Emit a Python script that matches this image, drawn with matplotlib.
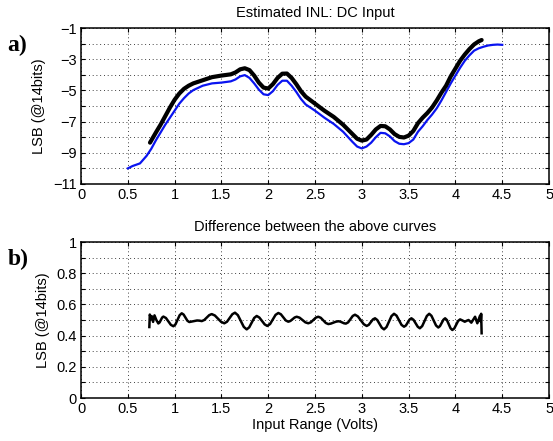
import numpy as np
from matplotlib import pyplot as plt

# top panel: estimated INL curves (LSB @ 14 bits)
black_x = [0.737, 0.80, 0.85, 0.90, 0.95, 1.00, 1.05, 1.10, 1.15, 1.20, 1.30, 1.40, 1.50,
           1.60, 1.65, 1.70, 1.75, 1.80, 1.85, 1.90, 1.95, 2.00, 2.05, 2.10, 2.15, 2.20,
           2.25, 2.30, 2.35, 2.40, 2.50, 2.60, 2.70, 2.80, 2.90, 2.95, 3.00, 3.05, 3.10,
           3.15, 3.20, 3.25, 3.30, 3.35, 3.40, 3.45, 3.50, 3.55, 3.60, 3.65, 3.70, 3.75,
           3.80, 3.85, 3.90, 3.95, 4.00, 4.05, 4.10, 4.15, 4.20, 4.25, 4.28]
black_y = [-8.35, -7.70, -7.20, -6.65, -6.10, -5.60, -5.20, -4.90, -4.70, -4.55, -4.35,
           -4.15, -4.05, -3.97, -3.85, -3.65, -3.58, -3.70, -4.05, -4.50, -4.82, -4.88,
           -4.60, -4.20, -3.93, -3.92, -4.20, -4.60, -5.05, -5.40, -5.85, -6.30, -6.70,
           -7.20, -7.80, -8.10, -8.22, -8.15, -7.85, -7.50, -7.28, -7.30, -7.50, -7.80,
           -7.98, -8.02, -7.90, -7.60, -7.10, -6.75, -6.45, -6.10, -5.65, -5.15, -4.70,
           -4.10, -3.60, -3.10, -2.70, -2.35, -2.05, -1.85, -1.77]

blue_x = [0.50, 0.55, 0.63, 0.70, 0.75, 0.80, 0.85, 0.90, 0.95, 1.00, 1.05, 1.10, 1.15,
          1.20, 1.30, 1.40, 1.50, 1.60, 1.65, 1.70, 1.75, 1.80, 1.85, 1.90, 1.95, 2.00,
          2.05, 2.10, 2.15, 2.20, 2.25, 2.30, 2.35, 2.40, 2.50, 2.60, 2.70, 2.80, 2.90,
          2.95, 3.00, 3.05, 3.10, 3.15, 3.20, 3.25, 3.30, 3.35, 3.40, 3.45, 3.50, 3.55,
          3.60, 3.65, 3.70, 3.75, 3.80, 3.85, 3.90, 3.95, 4.00, 4.05, 4.10, 4.15, 4.20,
          4.25, 4.30, 4.35, 4.40, 4.45, 4.50]
blue_y = [-10.00, -9.85, -9.68, -9.20, -8.75, -8.20, -7.70, -7.20, -6.75, -6.30, -5.85,
          -5.50, -5.20, -4.98, -4.70, -4.55, -4.50, -4.42, -4.30, -4.10, -4.02, -4.20,
          -4.55, -4.95, -5.25, -5.30, -5.05, -4.65, -4.38, -4.38, -4.70, -5.10, -5.55,
          -5.90, -6.30, -6.75, -7.15, -7.65, -8.30, -8.60, -8.72, -8.60, -8.35, -8.00,
          -7.72, -7.75, -7.95, -8.25, -8.42, -8.45, -8.38, -8.15, -7.65, -7.30, -6.90,
          -6.55, -6.15, -5.65, -5.10, -4.55, -4.05, -3.55, -3.10, -2.75, -2.45, -2.30,
          -2.20, -2.12, -2.08, -2.06, -2.08]

# bottom panel: difference between the curves
diff_x = [0.730, 0.735, 0.748, 0.755, 0.770, 0.785, 0.805, 0.826, 0.8395, 0.853, 0.8665,
          0.880, 0.907, 0.9335, 0.960, 0.987, 1.009, 1.0315, 1.054, 1.076, 1.096, 1.1165,
          1.137, 1.157, 1.200, 1.240, 1.265, 1.290, 1.3165, 1.343, 1.3695, 1.396, 1.430,
          1.4635, 1.497, 1.531, 1.5595, 1.588, 1.6165, 1.645, 1.676, 1.7075, 1.739, 1.770,
          1.797, 1.8235, 1.850, 1.877, 1.905, 1.9335, 1.962, 1.990, 2.0195, 2.049, 2.0785,
          2.108, 2.135, 2.1615, 2.188, 2.215, 2.237, 2.2595, 2.282, 2.304, 2.335, 2.366,
          2.397, 2.428, 2.455, 2.4815, 2.508, 2.535, 2.562, 2.5885, 2.615, 2.642, 2.669,
          2.6955, 2.722, 2.749, 2.769, 2.7895, 2.810, 2.830, 2.854, 2.8785, 2.903, 2.927,
          2.958, 2.9895, 3.021, 3.052, 3.074, 3.0965, 3.119, 3.141, 3.165, 3.189, 3.213,
          3.237, 3.264, 3.2905, 3.317, 3.344, 3.371, 3.3975, 3.424, 3.451, 3.471, 3.4905,
          3.510, 3.530, 3.5525, 3.575, 3.5975, 3.620, 3.645, 3.670, 3.695, 3.720, 3.744,
          3.7685, 3.793, 3.817, 3.835, 3.8535, 3.872, 3.890, 3.909, 3.9285, 3.948, 3.967,
          3.988, 4.0085, 4.029, 4.050, 4.075, 4.100, 4.120, 4.140, 4.155, 4.170, 4.190,
          4.210, 4.222, 4.234, 4.250, 4.263, 4.270, 4.275, 4.280]
diff_y = [0.455, 0.535, 0.505, 0.525, 0.488, 0.530, 0.500, 0.478, 0.4844, 0.500, 0.5156,
          0.522, 0.513, 0.491, 0.469, 0.460, 0.472, 0.5015, 0.531, 0.543, 0.535, 0.515,
          0.495, 0.487, 0.492, 0.497, 0.496, 0.493, 0.500, 0.5155, 0.531, 0.538, 0.529,
          0.5085, 0.488, 0.479, 0.489, 0.513, 0.537, 0.547, 0.531, 0.4935, 0.456, 0.440,
          0.453, 0.483, 0.513, 0.526, 0.516, 0.494, 0.472, 0.462, 0.474, 0.5035, 0.533,
          0.545, 0.537, 0.517, 0.497, 0.489, 0.494, 0.505, 0.516, 0.521, 0.515, 0.500,
          0.485, 0.479, 0.485, 0.500, 0.515, 0.521, 0.514, 0.4975, 0.481, 0.474, 0.477,
          0.483, 0.489, 0.492, 0.490, 0.4845, 0.479, 0.477, 0.485, 0.5055, 0.526, 0.534,
          0.523, 0.498, 0.473, 0.462, 0.469, 0.4865, 0.504, 0.511, 0.500, 0.4755, 0.451,
          0.440, 0.455, 0.490, 0.525, 0.540, 0.528, 0.4985, 0.469, 0.457, 0.465, 0.484,
          0.503, 0.511, 0.501, 0.479, 0.457, 0.447, 0.461, 0.4935, 0.526, 0.540, 0.527,
          0.496, 0.465, 0.452, 0.461, 0.4815, 0.502, 0.511, 0.500, 0.4735, 0.447, 0.436,
          0.446, 0.470, 0.494, 0.504, 0.497, 0.489, 0.495, 0.500, 0.492, 0.483, 0.502,
          0.521, 0.500, 0.479, 0.505, 0.528, 0.490, 0.540, 0.415]

x_ticks = np.arange(0, 5.01, 0.5)
x_labels = ['0', '0.5', '1', '1.5', '2', '2.5', '3', '3.5', '4', '4.5', '5']
top_labels = ['\u221211', '', '\u22129', '', '\u22127', '', '\u22125', '', '\u22123', '', '\u22121']
bot_labels = ['0', '', '0.2', '', '0.4', '', '0.6', '', '0.8', '', '1']

plt.rcParams['font.family'] = ['Liberation Sans', 'DejaVu Sans']
plt.rcParams['font.size'] = 10

fig = plt.figure(figsize=(5.53, 4.41), dpi=100)
ax1 = fig.add_axes([0.1465, 0.5828, 0.8463, 0.3537])
ax2 = fig.add_axes([0.1465, 0.0975, 0.8463, 0.3537])


def style_axes(ax):
    ax.set_xlim(0, 5)
    ax.set_xticks(x_ticks)
    ax.set_xticklabels(x_labels)
    ax.grid(True, color='black', linestyle=(0, (1, 3.5)), linewidth=0.6)
    ax.tick_params(direction='in', top=True, right=True, length=3, width=0.8, pad=3,
                   labelsize=10.5)
    for sp in ax.spines.values():
        sp.set_linewidth(1.1)


ax1.plot(blue_x, blue_y, color='#0a14f0', linewidth=1.6)
ax1.plot(black_x, black_y, color='black', linewidth=3.0, solid_capstyle='round')
style_axes(ax1)
ax1.set_ylim(-11, -1)
ax1.set_yticks(np.arange(-11, -0.5, 1))
ax1.set_yticklabels(top_labels)
ax1.set_ylabel('LSB (@14bits)', fontsize=10.5, labelpad=5)
ax1.set_title('Estimated INL: DC Input', fontsize=10.5, pad=8)

ax2.plot(diff_x, diff_y, color='black', linewidth=1.8)
style_axes(ax2)
ax2.set_ylim(0, 1)
ax2.set_yticks(np.arange(0, 1.01, 0.1))
ax2.set_yticklabels(bot_labels)
ax2.set_ylabel('LSB (@14bits)', fontsize=10.5, labelpad=5)
ax2.set_xlabel('Input Range (Volts)', fontsize=10.5, labelpad=1)
ax2.set_title('Difference between the above curves', fontsize=10.5, pad=8)

fig.text(0.014, 0.885, 'a)', fontsize=17, fontweight='bold', family='Liberation Serif')
fig.text(0.014, 0.40, 'b)', fontsize=17, fontweight='bold', family='Liberation Serif')

fig.savefig('out.png', dpi=100)
